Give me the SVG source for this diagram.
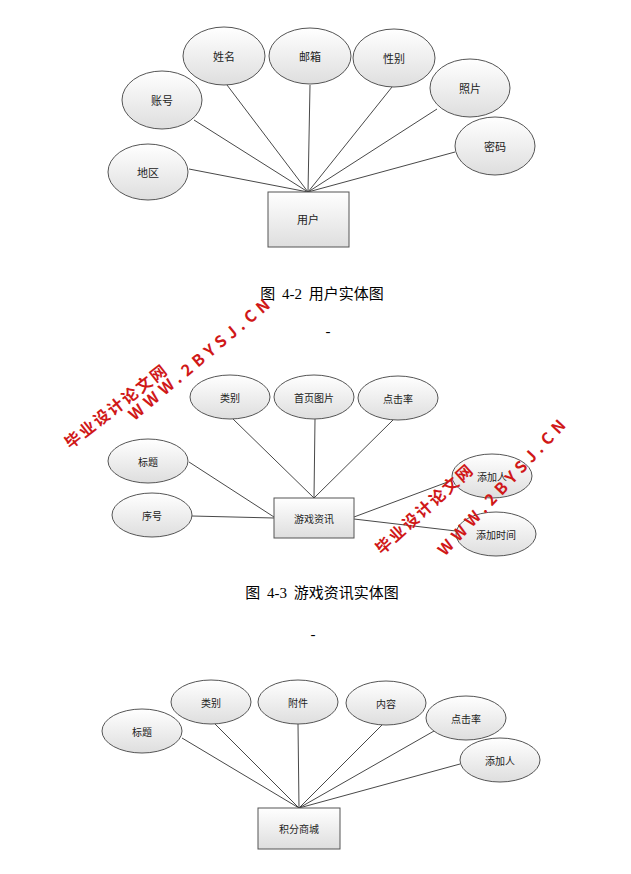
<svg xmlns="http://www.w3.org/2000/svg" width="631" height="874" viewBox="0 0 631 874">
<defs>
<linearGradient id="g" x1="0" y1="0" x2="0" y2="1"><stop offset="0" stop-color="#ffffff"/><stop offset="1" stop-color="#dedede"/></linearGradient>
<style>
ellipse,rect.n{fill:url(#g);stroke:#555;stroke-width:1}
.c line{stroke:#333;stroke-width:0.9}
text{font-family:"Noto Sans CJK SC",sans-serif;font-size:11px;fill:#222;text-anchor:middle;dominant-baseline:central}
.cap{font-family:"Liberation Serif","Noto Sans CJK SC",serif;font-size:15px;fill:#000;word-spacing:3px}
.wm{font-family:"Noto Sans CJK SC",sans-serif;font-weight:bold;font-size:16px;fill:#d01818;text-anchor:start;letter-spacing:2px}
.ww{letter-spacing:5px}
</style>
</defs>
<rect width="631" height="874" fill="#fff"/>
<g class="c">
<line x1="189" y1="169" x2="308" y2="192"/><line x1="194" y1="120" x2="308" y2="192"/><line x1="227" y1="85" x2="308" y2="192"/><line x1="310" y1="85" x2="308" y2="192"/><line x1="392" y1="87" x2="308" y2="192"/><line x1="437" y1="109" x2="308" y2="192"/><line x1="455" y1="152" x2="308" y2="192"/>
<line x1="233" y1="419" x2="314" y2="498"/><line x1="315" y1="419" x2="314" y2="498"/><line x1="393" y1="420" x2="314" y2="498"/><line x1="189" y1="462" x2="274" y2="517"/><line x1="192" y1="516" x2="274" y2="518"/><line x1="453" y1="480" x2="354" y2="517"/><line x1="456" y1="531" x2="354" y2="519"/>
<line x1="182" y1="738" x2="299" y2="808"/><line x1="215" y1="724" x2="299" y2="808"/><line x1="298" y1="724" x2="299" y2="808"/><line x1="382" y1="725" x2="299" y2="808"/><line x1="434" y1="731" x2="299" y2="808"/><line x1="460" y1="764" x2="299" y2="808"/>
</g>
<g id="n1"><ellipse cx="148" cy="172" rx="40" ry="28"/><text x="148" y="172">地区</text></g>
<g id="n2"><ellipse cx="162" cy="100" rx="40" ry="29"/><text x="162" y="100">账号</text></g>
<g id="n3"><ellipse cx="224" cy="56" rx="41" ry="29"/><text x="224" y="56">姓名</text></g>
<g id="n4"><ellipse cx="310" cy="56" rx="41" ry="28"/><text x="310" y="56">邮箱</text></g>
<g id="n5"><ellipse cx="394" cy="58" rx="41" ry="29"/><text x="394" y="58">性别</text></g>
<g id="n6"><ellipse cx="470" cy="88" rx="40" ry="29"/><text x="470" y="88">照片</text></g>
<g id="n7"><ellipse cx="495" cy="146" rx="40" ry="29"/><text x="495" y="146">密码</text></g>
<g id="n8"><rect class="n" x="268" y="192" width="81" height="55"/><text x="308" y="219">用户</text></g>
<text class="cap" x="322" y="294">图 4-2  用户实体图</text>
<text class="cap" x="328" y="331">-</text>
<g id="m1"><ellipse cx="230" cy="397" rx="40" ry="22"/><text x="230" y="397" style="font-size:10px">类别</text></g>
<g id="m2"><ellipse cx="314" cy="397" rx="40" ry="22"/><text x="314" y="397" style="font-size:10px">首页图片</text></g>
<g id="m3"><ellipse cx="398" cy="398" rx="40" ry="22"/><text x="398" y="398" style="font-size:10px">点击率</text></g>
<g id="m4"><ellipse cx="148" cy="461" rx="40" ry="22"/><text x="148" y="461" style="font-size:10px">标题</text></g>
<g id="m5"><ellipse cx="152" cy="515" rx="40" ry="22"/><text x="152" y="515" style="font-size:10px">序号</text></g>
<g id="m6"><ellipse cx="492" cy="476" rx="40" ry="22"/><text x="492" y="476" style="font-size:10px">添加人</text></g>
<g id="m7"><ellipse cx="496" cy="534" rx="40" ry="22"/><text x="496" y="534" style="font-size:10px">添加时间</text></g>
<g id="m8"><rect class="n" x="274" y="498" width="80" height="40"/><text x="314" y="518" style="font-size:10px">游戏资讯</text></g>
<text class="cap" x="322" y="593">图 4-3  游戏资讯实体图</text>
<text class="cap" x="313" y="634">-</text>
<g id="k1"><ellipse cx="142" cy="731" rx="40" ry="22"/><text x="142" y="731" style="font-size:10px">标题</text></g>
<g id="k2"><ellipse cx="211" cy="702" rx="40" ry="22"/><text x="211" y="702" style="font-size:10px">类别</text></g>
<g id="k3"><ellipse cx="298" cy="702" rx="40" ry="22"/><text x="298" y="702" style="font-size:10px">附件</text></g>
<g id="k4"><ellipse cx="386" cy="703" rx="40" ry="22"/><text x="386" y="703" style="font-size:10px">内容</text></g>
<g id="k5"><ellipse cx="466" cy="718" rx="40" ry="22"/><text x="466" y="718" style="font-size:10px">点击率</text></g>
<g id="k6"><ellipse cx="500" cy="760" rx="40" ry="22"/><text x="500" y="760" style="font-size:10px">添加人</text></g>
<g id="k7"><rect class="n" x="258" y="808" width="82" height="41"/><text x="299" y="828" style="font-size:10px">积分商城</text></g>
<g id="wm">
<text class="wm" transform="translate(66,444) rotate(-38)">毕业设计论文网</text>
<text class="wm ww" transform="translate(130,416) rotate(-40)">WWW.2BYSJ.CN</text>
<text class="wm" transform="translate(377,550) rotate(-42)">毕业设计论文网</text>
<text class="wm ww" transform="translate(440,552) rotate(-47)">WWW.2BYSJ.CN</text>
</g>
</svg>
